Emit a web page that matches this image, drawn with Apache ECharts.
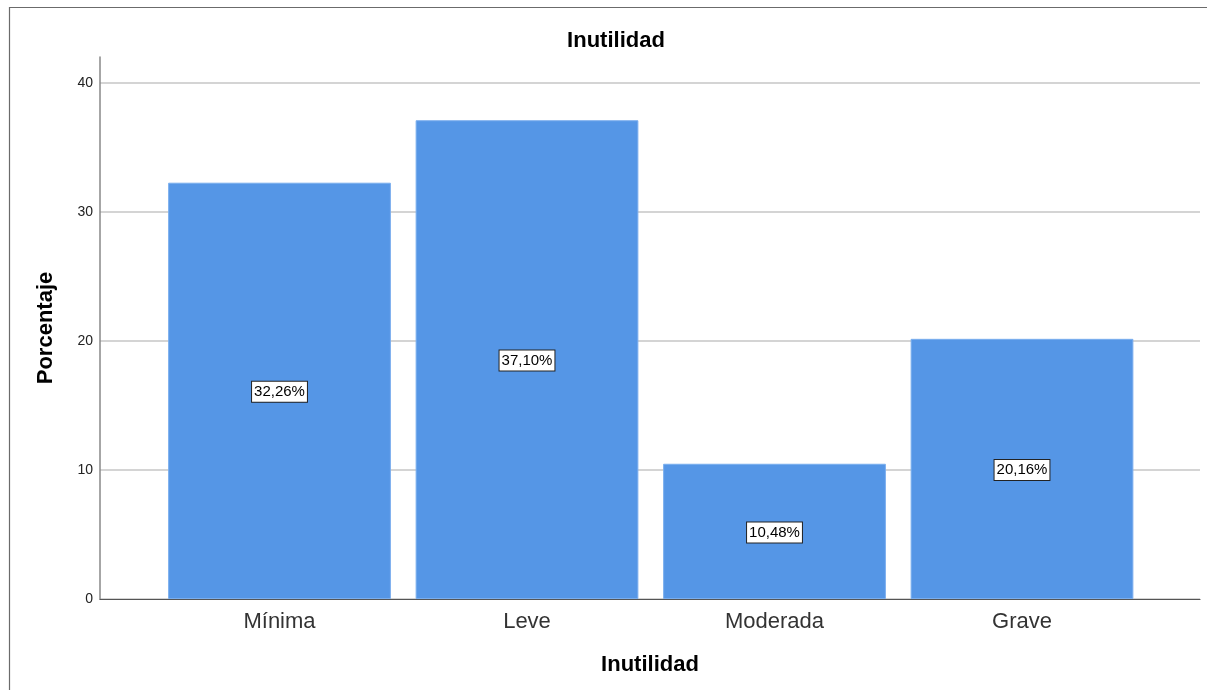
<!DOCTYPE html>
<html>
<head>
<meta charset="utf-8">
<script src="https://cdn.jsdelivr.net/npm/echarts@6/dist/echarts.min.js"></script>
<style>html,body{margin:0;padding:0;background:#fff}#c{width:1207px;height:690px}</style>
</head>
<body>
<div id="c"></div>
<script>
var categories = ['Mínima', 'Leve', 'Moderada', 'Grave'];
var percentages = [32.26, 37.10, 10.48, 20.16];
var yTicks = [0, 10, 20, 30, 40];
var chartTitle = 'Inutilidad';
var xName = 'Inutilidad';
var yName = 'Porcentaje';

var chart = echarts.init(document.getElementById('c'), null, {renderer: 'canvas'});
var font = 'Arial, "Liberation Sans", sans-serif';
chart.setOption({
  animation: false,
  backgroundColor: '#fff',
  title: {
    text: chartTitle, left: 611, textAlign: 'center', top: 25,
    textStyle: {fontFamily: font, fontSize: 22, fontWeight: 'bold', color: '#000'}
  },
  graphic: [{
    type: 'polyline', silent: true,
    shape: {points: [[9.5, 700], [9.5, 7.5], [1210, 7.5]]},
    style: {stroke: '#6b6b6b', lineWidth: 1.2, fill: null}
  }],
  grid: [
    {left: 100, right: 7, top: 57, bottom: 91},
    {left: 155.75, right: 61.25, top: 57, bottom: 91}
  ],
  xAxis: [
    {
      gridIndex: 0, type: 'category', data: categories,
      axisLine: {show: true, lineStyle: {color: '#555', width: 1.2}},
      axisTick: {show: false}, axisLabel: {show: false},
      name: xName, nameLocation: 'middle', nameGap: 55,
      nameTextStyle: {fontFamily: font, fontSize: 22, fontWeight: 'bold', color: '#000'}
    },
    {
      gridIndex: 1, type: 'category', data: categories,
      axisLine: {show: false}, axisTick: {show: false},
      axisLabel: {fontFamily: font, fontSize: 22, color: '#333', margin: 12}
    }
  ],
  yAxis: [
    {
      gridIndex: 0, type: 'value', min: 0, max: 42, interval: 10,
      axisLine: {show: true, lineStyle: {color: '#888', width: 1.5}},
      axisTick: {show: false},
      axisLabel: {
        fontFamily: font, fontSize: 14, color: '#222', margin: 7,
        formatter: function (v) { return yTicks.indexOf(v) >= 0 ? String(v) : ''; }
      },
      splitLine: {show: true, showMaxLine: false, lineStyle: {color: '#d4d4d4', width: 2}},
      name: yName, nameLocation: 'middle', nameGap: 43,
      nameTextStyle: {fontFamily: font, fontSize: 22, fontWeight: 'bold', color: '#000'}
    },
    {
      gridIndex: 1, type: 'value', min: 0, max: 42, interval: 10,
      show: false, splitLine: {show: false}
    }
  ],
  series: [{
    type: 'bar', xAxisIndex: 1, yAxisIndex: 1,
    data: percentages,
    barCategoryGap: '10%',
    itemStyle: {color: '#5596e6', borderColor: '#7aaeee', borderWidth: 1},
    label: {
      show: true, position: 'inside', offset: [0, 1],
      formatter: function (p) { return p.value.toFixed(2).replace('.', ',') + '%'; },
      fontFamily: font, fontSize: 15, color: '#000',
      backgroundColor: '#fff', borderColor: '#222', borderWidth: 1, padding: [3, 2, 2, 2]
    }
  }]
});
</script>
</body>
</html>
